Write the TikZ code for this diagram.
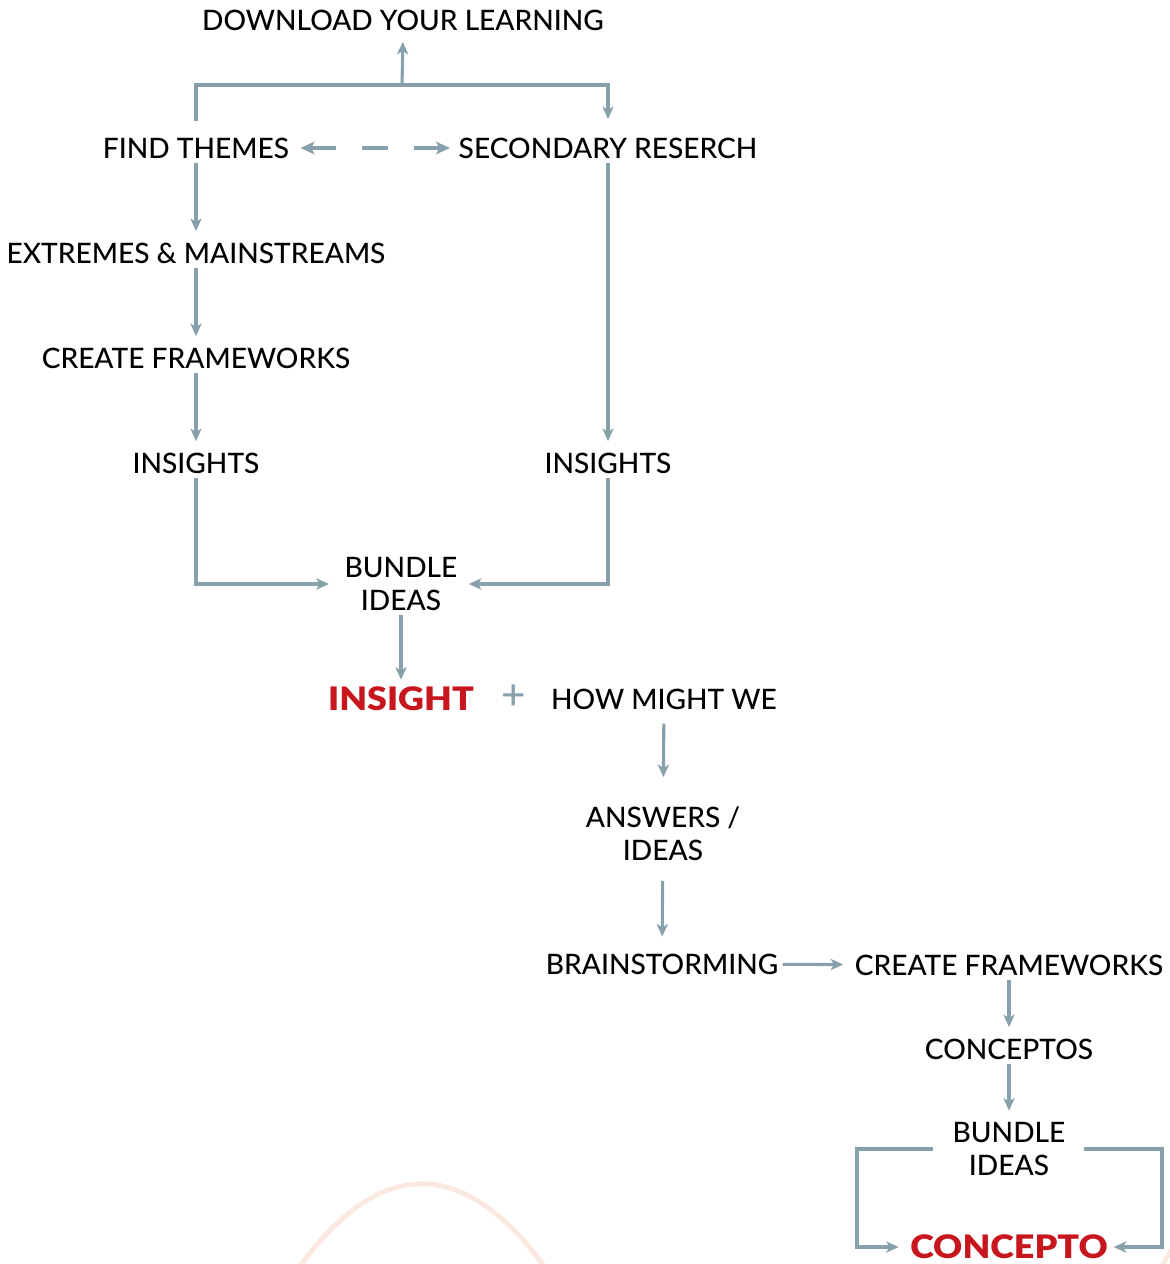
\documentclass[tikz,border=0pt]{standalone}
\usepackage{fontspec}
\setmainfont{Lato Medium}
\newfontfamily\heavyfont{Lato Black}[FakeStretch=1.11]
\usetikzlibrary{positioning}
\usetikzlibrary{arrows.meta}
\definecolor{linegrey}{RGB}{135,160,172}
\definecolor{hotred}{RGB}{200,22,30}
\definecolor{peach}{RGB}{250,232,225}

\begin{document}
\begin{tikzpicture}[x=0.025cm,y=-0.025cm]
    \tikzset{base/.style = {inner sep=3pt, align=center,
                           font=\fontsize{20}{23.5}\selectfont}}
    \tikzset{hot/.style = {base, text=hotred, font=\fontsize{23}{26}\selectfont\heavyfont}}
    \tikzset{wire/.style = {draw=linegrey, line width=2.2pt}}
    \tikzset{flow/.style = {wire, -{Stealth[length=9pt,width=8pt,inset=2.5pt]}, shorten >=5pt}}

    \useasboundingbox (0,0) rectangle (1170,1264);

    % faint arc in the background
    \draw[peach, line width=3.5pt] (297,1270) .. controls (380,1155) and (464,1155) .. (547,1270);
    \draw[peach, line width=3.5pt] (1160,1272) .. controls (1166,1258) .. (1176,1244);

    \node (dl) [base] at (403,20) {DOWNLOAD YOUR LEARNING};
    \node (themes) [base] at (196,148) {FIND THEMES};
    \node (sec) [base] at (608,148) {SECONDARY RESERCH};
    \node (ext) [base] at (196,253) {EXTREMES \& MAINSTREAMS};
    \node (cf1) [base] at (196,358) {CREATE FRAMEWORKS};
    \node (ins1) [base] at (196,463) {INSIGHTS};
    \node (ins2) [base] at (608,463) {INSIGHTS};
    \node (bund1) [base] at (401,584) {BUNDLE\\IDEAS};
    \node (insight) [hot] at (401,699) {INSIGHT};
    \node (plus) [base, text=linegrey, font=\fontsize{30}{30}\selectfont] at (514,697) {+};
    \node (hmw) [base] at (664,699) {HOW MIGHT WE};
    \node (ans) [base] at (663,834) {ANSWERS /\\IDEAS};
    \node (brain) [base] at (662,964) {BRAINSTORMING};
    \node (cf2) [base] at (1009,965) {CREATE FRAMEWORKS};
    \node (conc) [base] at (1009,1049) {CONCEPTOS};
    \node (bund2) [base] at (1009,1149) {BUNDLE\\IDEAS};
    \node (concepto) [hot] at (1009,1247) {CONCEPTO};

    \coordinate (fork) at (402,85);
    \coordinate (bl) at (857,1149);
    \coordinate (br) at (1162,1149);

    \draw[wire, shorten <=9pt] (themes.north) |- (fork);
    \draw[flow, shorten >=10pt] (fork) -| (sec.north);
    \draw[flow] (fork) -- (dl.south);
    \draw[wire, line width=3.4pt, {Stealth[length=10pt,width=9pt,inset=2.5pt]}-{Stealth[length=10pt,width=9pt,inset=2.5pt]},
          dash pattern=on 18pt off 18.5pt on 18.5pt off 19pt on 30pt,
          shorten <=5pt, shorten >=3pt] (themes.east) -- (sec.west);

    \draw[flow] (themes) -- (ext);
    \draw[flow] (ext) -- (cf1);
    \draw[flow] (cf1) -- (ins1);
    \draw[flow] (sec) -- (ins2);
    \draw[flow, shorten >=8pt] (ins1.south) |- (bund1.west);
    \draw[flow] (ins2.south) |- (bund1.east);
    \draw[flow, shorten >=2pt] (bund1) -- (insight);

    \draw[flow, shorten <=7pt, shorten >=18pt] (hmw) -- (ans);
    \draw[flow, shorten <=11pt, shorten >=9pt] (ans) -- (brain);
    \draw[flow] (brain) -- (cf2);
    \draw[flow] (cf2) -- (conc);
    \draw[flow] (conc) -- (bund2);
    \draw[flow, shorten <=11pt] (bund2.west) -- (bl) |- (concepto.west);
    \draw[flow, shorten <=10pt, shorten >=1pt] (bund2.east) -- (br) |- (concepto.east);

\end{tikzpicture}
\end{document}
